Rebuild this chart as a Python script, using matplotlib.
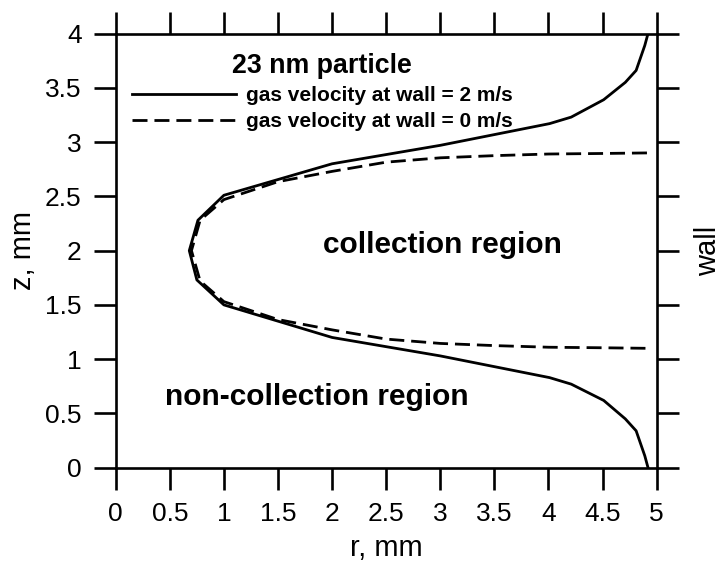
import matplotlib
matplotlib.use("Agg")
import matplotlib.pyplot as plt

plt.rcParams["font.family"] = ["Liberation Sans", "DejaVu Sans"]

# trajectory boundaries for a 23 nm particle (r, z in mm)
r_wall2 = [4.92, 4.89, 4.81, 4.71, 4.51, 4.21, 4.01, 3.0, 2.0, 1.0, 0.76, 0.68,
           0.75, 1.0, 2.0, 3.0, 4.01, 4.21, 4.51, 4.71, 4.81, 4.89, 4.92]
z_wall2 = [4.0, 3.89, 3.66, 3.55, 3.39, 3.23, 3.17, 2.97, 2.8, 2.51, 2.28, 2.0,
           1.73, 1.5, 1.2, 1.03, 0.83, 0.77, 0.62, 0.45, 0.34, 0.11, 0.0]

r_wall0 = [4.91, 4.5, 4.0, 3.5, 3.0, 2.5, 2.0, 1.5, 1.0, 0.78, 0.70,
           0.78, 1.0, 1.5, 2.0, 2.5, 3.0, 3.5, 4.0, 4.5, 4.91]
z_wall0 = [2.90, 2.895, 2.89, 2.875, 2.855, 2.815, 2.73, 2.635, 2.47, 2.28, 2.0,
           1.72, 1.53, 1.365, 1.27, 1.185, 1.145, 1.125, 1.11, 1.105, 1.10]

xticks = [0, 0.5, 1, 1.5, 2, 2.5, 3, 3.5, 4, 4.5, 5]
yticks = [0, 0.5, 1, 1.5, 2, 2.5, 3, 3.5, 4]

fig = plt.figure(figsize=(7.21, 5.79), dpi=100)
ax = fig.add_axes([0.1605, 0.1922, 0.7503, 0.7499])

lw = 2.0
ax.plot(r_wall2, z_wall2, color="black", lw=lw, label="gas velocity at wall = 2 m/s")
ax.plot(r_wall0, z_wall0, color="black", lw=lw, dashes=(5.4, 2.5),
        label="gas velocity at wall = 0 m/s")

ax.set_xlim(0, 5)
ax.set_ylim(0, 4)
ax.set_xticks(xticks)
ax.set_yticks(yticks)
ax.set_xticklabels([f"{t:g}" for t in xticks])
ax.set_yticklabels([f"{t:g}" for t in yticks])

ax.tick_params(direction="out", length=16, width=1.9, labelsize=19, pad=8.5,
               top=True, right=True, labeltop=False, labelright=False)
for s in ax.spines.values():
    s.set_linewidth(1.9)

ax.set_xlabel("r, mm", fontsize=21, labelpad=6)
ax.set_ylabel("z, mm", fontsize=21, labelpad=6)
ax.text(1.095, 0.5, "wall", rotation=90, fontsize=21, ha="center", va="center",
        transform=ax.transAxes)

ax.text(3.02, 2.05, "collection region", fontsize=21.5, fontweight="bold",
        ha="center", va="center")
ax.text(1.856, 0.651, "non-collection region", fontsize=21.5, fontweight="bold",
        ha="center", va="center")

leg = ax.legend(loc="upper left", bbox_to_anchor=(0.0296, 0.955), frameon=False,
                title="23 nm particle", borderpad=0, borderaxespad=0,
                handlelength=5.0, handletextpad=0.48, labelspacing=0.33,
                prop={"size": 15, "weight": "bold"},
                title_fontproperties={"size": 19.3, "weight": "bold"})

fig.savefig("out.png", dpi=100)
